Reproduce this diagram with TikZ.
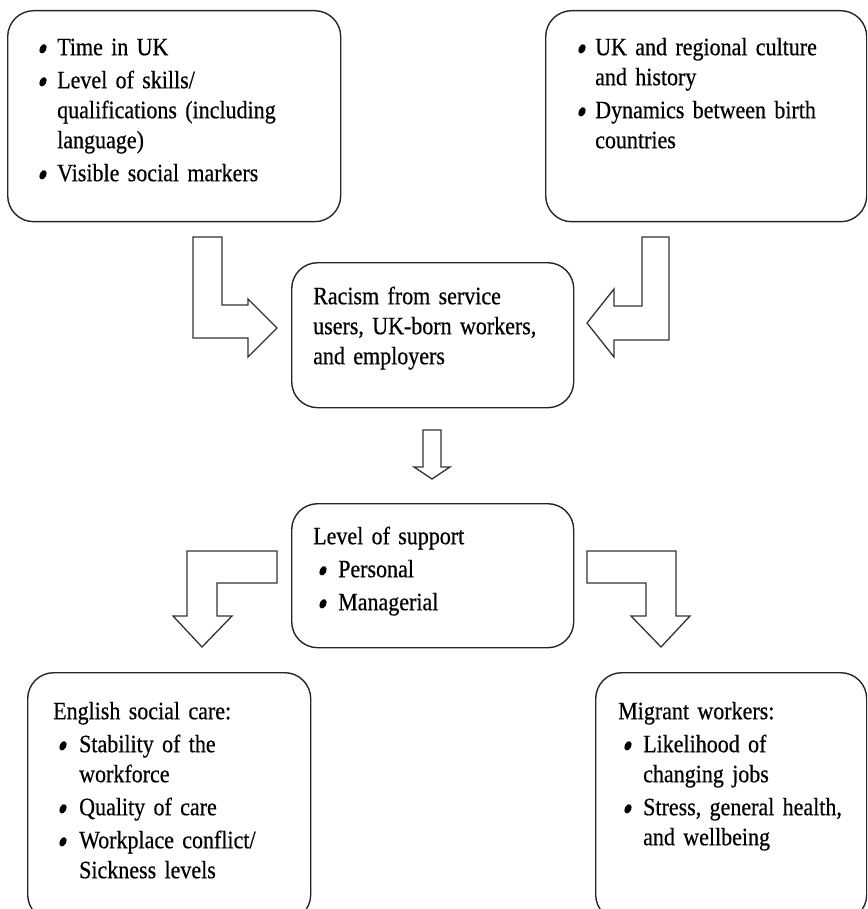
\documentclass[tikz,border=0pt]{standalone}
\usepackage{fontspec}
\usepackage{graphicx}
\setmainfont{Liberation Serif}[FakeStretch=0.88,FakeBold=0.5]
\newlength\bulpre
\newlength\bulgap
\newcommand{\mybul}{\hspace*{-3pt}\smash{\raisebox{-6.5pt}{\rotatebox[origin=c]{-25}{\scalebox{1.2}[1.6]{\textbullet}}}}}
\newcommand{\fitem}[1]{\hangindent=\dimexpr\bulpre+\bulgap\relax\hangafter=1\noindent\strut\hspace*{\bulpre}\makebox[\bulgap][l]{\mybul}#1}
\newcommand{\bitem}[1]{\par\fitem{#1}}
\newcommand{\bhead}[1]{\noindent\strut #1}
\tikzset{
  box/.style={draw=black!85, line width=1.4pt, rounded corners=26pt, inner sep=0pt, anchor=north west},
  txt/.style={anchor=north west, inner sep=0pt, text width=255pt, align=left, font=\fontsize{25}{30}\selectfont},
  blk/.style={draw=black!80, line width=1.3pt, fill=white, line join=miter}
}
\begin{document}
\begin{tikzpicture}[x=1pt,y=-1pt]
\useasboundingbox (0,0) rectangle (867,909);
\clip (0,0) rectangle (867,909);
% boxes
\node[box, minimum width=333pt, minimum height=211pt] (tl) at (7,10) {};
\node[box, minimum width=321pt, minimum height=211pt] (tr) at (545,10) {};
\node[box, minimum width=282pt, minimum height=145pt] (m1) at (291,262) {};
\node[box, minimum width=282pt, minimum height=144pt] (m2) at (291,503) {};
\node[box, minimum width=283pt, minimum height=248pt] (bl) at (27,672) {};
\node[box, minimum width=271pt, minimum height=248pt] (br) at (595,672) {};
% texts
\node[txt, text width=290pt] (tlt) at (36,34) {\setlength\parskip{3pt}\setlength\bulpre{0pt}\setlength\bulgap{21pt}%
  \fitem{Time in UK}\bitem{Level of skills/\newline qualifications (including\newline language)}\bitem{Visible social markers}\par};
\node[txt] (trt) at (575,34) {\setlength\parskip{3pt}\setlength\bulpre{0pt}\setlength\bulgap{20pt}%
  \fitem{UK and regional culture\newline and history}\bitem{Dynamics between birth\newline countries}\par};
\node[txt] (m1t) at (313,283) {\bhead{Racism from service\newline users, UK-born workers,\newline and employers}\par};
\node[txt] (m2t) at (313,523) {\setlength\parskip{3pt}\setlength\bulpre{3pt}\setlength\bulgap{22pt}%
  \bhead{Level of support}\bitem{Personal}\bitem{Managerial}\par};
\node[txt] (blt) at (53,698) {\setlength\parskip{3pt}\setlength\bulpre{3pt}\setlength\bulgap{23pt}%
  \bhead{English social care:}\bitem{Stability of the\newline workforce}\bitem{Quality of care}\bitem{Workplace conflict/\newline Sickness levels}\par};
\node[txt] (brt) at (618,698) {\setlength\parskip{3pt}\setlength\bulpre{3pt}\setlength\bulgap{22pt}%
  \bhead{Migrant workers:}\bitem{Likelihood of\newline changing jobs}\bitem{Stress, general health,\newline and wellbeing}\par};
% block arrows
\draw[blk] (193,237) -- (222,237) -- (222,305) -- (248,305) -- (248,299) -- (277,328) -- (248,357) -- (248,338) -- (193,338) -- cycle;
\draw[blk] (669,237) -- (642,237) -- (642,306) -- (614,306) -- (614,289) -- (587,323) -- (614,357) -- (614,340) -- (669,340) -- cycle;
\draw[blk] (423,430) -- (441,430) -- (441,467) -- (450,467) -- (432,479) -- (414,467) -- (423,467) -- cycle;
\draw[blk] (277,551) -- (187,551) -- (187,616) -- (173,616) -- (202,647) -- (232,616) -- (217,616) -- (217,583) -- (277,583) -- cycle;
\draw[blk] (587,551) -- (676,551) -- (676,616) -- (690,616) -- (661,647) -- (631,616) -- (646,616) -- (646,583) -- (587,583) -- cycle;
\end{tikzpicture}
\end{document}
